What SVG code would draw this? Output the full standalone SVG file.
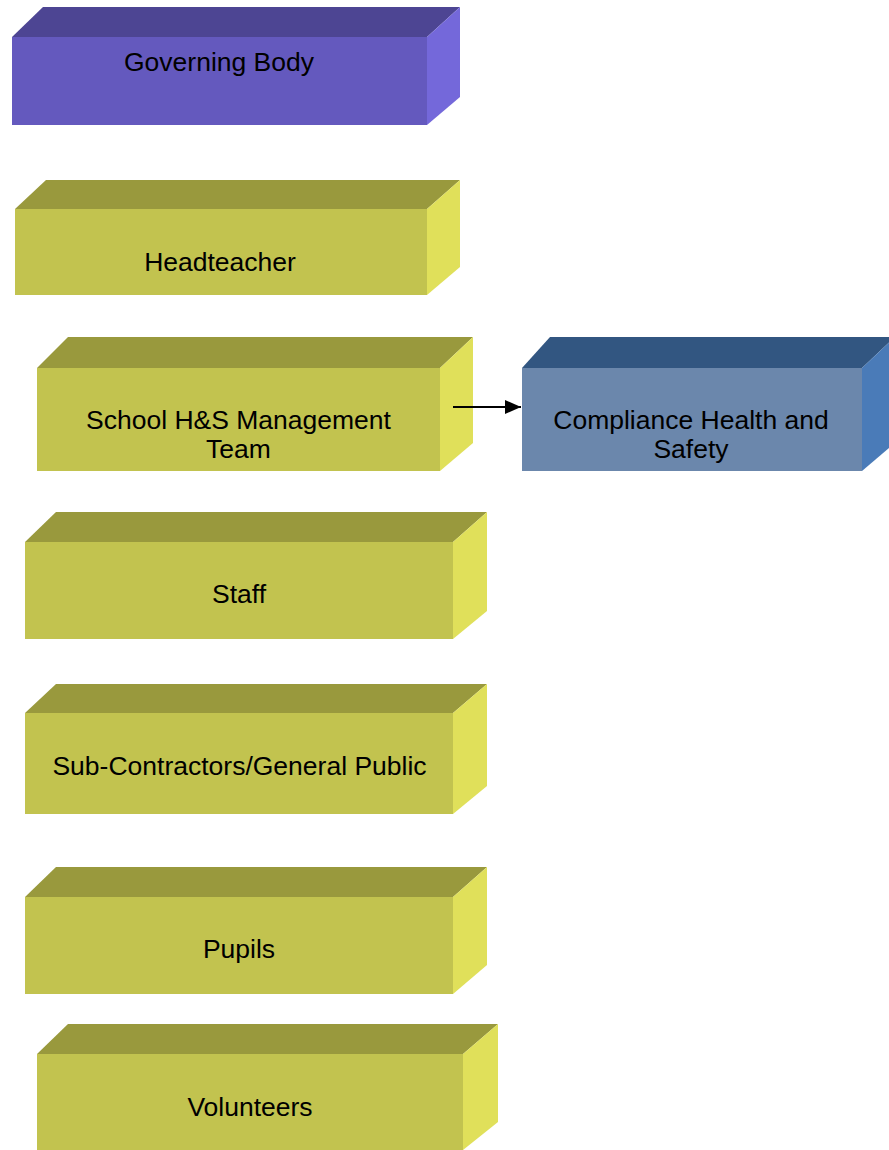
<svg xmlns="http://www.w3.org/2000/svg" width="889" height="1150" viewBox="0 0 889 1150">
<defs>
<style>
.t{font-family:"Liberation Sans",Arial,sans-serif;font-size:26.5px;fill:#000;text-anchor:middle}
.yf{fill:#C2C34F}.yt{fill:#99993D}.yr{fill:#E0E05A}
.pf{fill:#6459BE}.pt{fill:#4D4593}.pr{fill:#7468DA}
.bf{fill:#6B87AC}.bt{fill:#325681}.br{fill:#4A7BB8}
</style>
<marker id="ah" markerWidth="16" markerHeight="14" refX="16" refY="7" orient="auto" markerUnits="userSpaceOnUse" viewBox="0 0 16 14">
<path d="M0,0 L16,7 L0,14 z" fill="#000"/>
</marker>
</defs>
<rect width="889" height="1150" fill="#fff"/>

<g id="governing-body">
<polygon class="pt" points="12,37 43,7 460,7 427,37"/>
<polygon class="pr" points="427,37 460,7 460,97 427,125"/>
<rect class="pf" x="12" y="37" width="415" height="88"/>
<text class="t" x="219" y="71">Governing Body</text>
</g>

<g id="headteacher">
<polygon class="yt" points="15,209 46,180 460,180 427,209"/>
<polygon class="yr" points="427,209 460,180 460,267 427,295"/>
<rect class="yf" x="15" y="209" width="412" height="86"/>
<text class="t" x="220" y="271">Headteacher</text>
</g>

<g id="school-hs-management-team">
<polygon class="yt" points="37,368 68,337 473,337 440,368"/>
<polygon class="yr" points="440,368 473,337 473,443 440,471"/>
<rect class="yf" x="37" y="368" width="403" height="103"/>
<text class="t" x="238.5" y="429">School H&amp;S Management</text>
<text class="t" x="238.5" y="458">Team</text>
</g>

<g id="compliance-health-and-safety">
<polygon class="bt" points="522,368 550,337 889,337 889,342.6 862,368"/>
<polygon class="br" points="862,368 889,342.6 889,448 862,471"/>
<rect class="bf" x="522" y="368" width="340" height="103"/>
<text class="t" x="691" y="429">Compliance Health and</text>
<text class="t" x="691" y="458">Safety</text>
</g>

<g id="staff">
<polygon class="yt" points="25,542 56,512 487,512 453,542"/>
<polygon class="yr" points="453,542 487,512 487,611 453,639"/>
<rect class="yf" x="25" y="542" width="428" height="97"/>
<text class="t" x="239" y="603">Staff</text>
</g>

<g id="sub-contractors">
<polygon class="yt" points="25,713 56,684 487,684 453,713"/>
<polygon class="yr" points="453,713 487,684 487,786 453,814"/>
<rect class="yf" x="25" y="713" width="428" height="101"/>
<text class="t" x="239.5" y="775">Sub-Contractors/General Public</text>
</g>

<g id="pupils">
<polygon class="yt" points="25,897 56,867 487,867 453,897"/>
<polygon class="yr" points="453,897 487,867 487,965 453,994"/>
<rect class="yf" x="25" y="897" width="428" height="97"/>
<text class="t" x="239" y="958">Pupils</text>
</g>

<g id="volunteers">
<polygon class="yt" points="37,1054 68,1024 498,1024 463,1054"/>
<polygon class="yr" points="463,1054 498,1024 498,1122 463,1150"/>
<rect class="yf" x="37" y="1054" width="426" height="96"/>
<text class="t" x="250" y="1116">Volunteers</text>
</g>

<g id="connectors">
<line x1="453" y1="407" x2="521" y2="407" stroke="#000" stroke-width="2" marker-end="url(#ah)"/>
</g>
</svg>
